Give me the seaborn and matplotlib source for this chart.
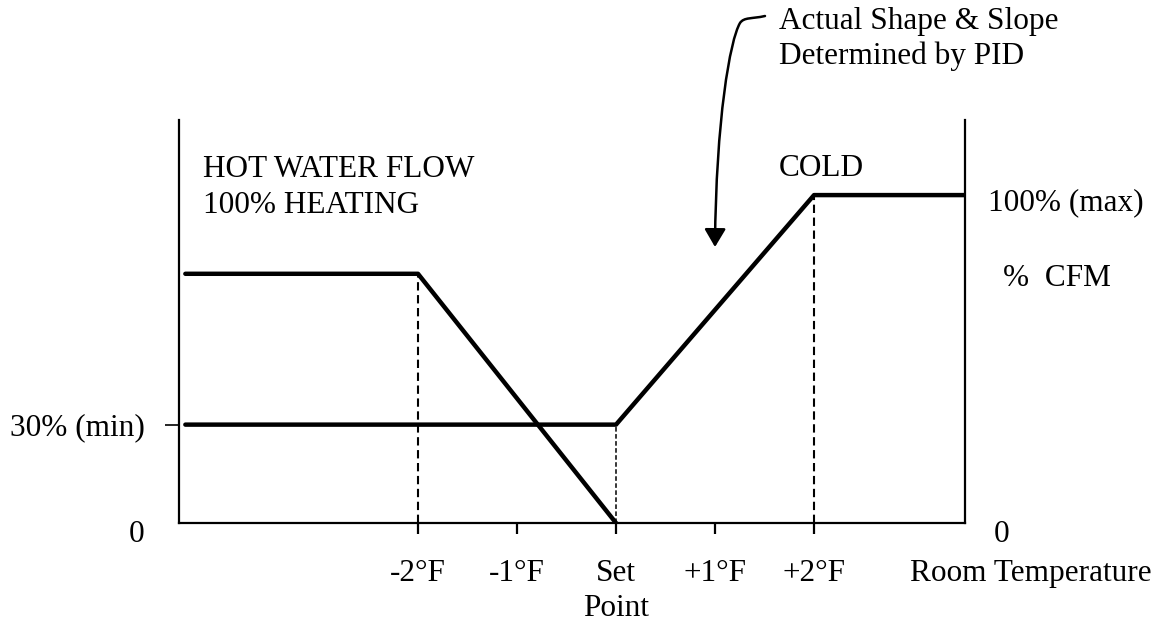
import matplotlib
matplotlib.use("Agg")
import matplotlib.pyplot as plt
import seaborn as sns
import pandas as pd
from matplotlib.path import Path
from matplotlib.patches import FancyArrowPatch

# -------------------------------
# Data
# -------------------------------
tick_pos = [-2, -1, 0, 1, 2]
tick_labels = ["-2°F", "-1°F", "Set\nPoint", "+1°F", "+2°F"]

heating_x = [-4.35, -2, 0]
heating_y = [76, 76, 0]

cfm_x = [-4.35, 0, 2, 3.525]
cfm_y = [30, 30, 100, 100]

min_cfm = 30

# -------------------------------
# Style
# -------------------------------
sns.set_style("white")
plt.rcParams["font.family"] = ["Liberation Serif", "DejaVu Serif"]
plt.rcParams["text.color"] = "black"
plt.rcParams["xtick.color"] = "black"
plt.rcParams["ytick.color"] = "black"
FS = 22.5

W, H = 1156, 623
fig = plt.figure(figsize=(W / 100, H / 100), dpi=100)
ax = fig.add_axes([179 / W, (H - 523) / H, (965 - 179) / W, (523 - 120) / H])


def fx(px):
    return px / W


def fy(py):
    return 1 - py / H


df_heat = pd.DataFrame({"x": heating_x, "y": heating_y})
df_cfm = pd.DataFrame({"x": cfm_x, "y": cfm_y})

sns.lineplot(data=df_heat, x="x", y="y", ax=ax, color="black", lw=3.2, sort=False)
sns.lineplot(data=df_cfm, x="x", y="y", ax=ax, color="black", lw=3.2, sort=False)

# dashed guides
ax.plot([-2, -2], [0, heating_y[1]], color="black", lw=1.5, ls=(0, (4, 2.2)))
ax.plot([0, 0], [0, min_cfm], color="black", lw=1.1, ls=(0, (3, 1.6)))
ax.plot([2, 2], [0, cfm_y[2]], color="black", lw=1.5, ls=(0, (4, 2.2)))

ax.set_xlim(-4.414, 3.525)
ax.set_ylim(0, 122.9)

for s in ["left", "bottom", "right"]:
    ax.spines[s].set_visible(True)
    ax.spines[s].set_color("black")
    ax.spines[s].set_linewidth(1.6)
ax.spines["top"].set_visible(False)

ax.set_xticks(tick_pos)
ax.set_xticklabels(tick_labels, fontsize=FS, linespacing=1.27)
ax.tick_params(axis="x", direction="out", length=8, width=1.6, pad=18, bottom=True)
ax.set_yticks([min_cfm])
ax.set_yticklabels(["30% (min)"], fontsize=FS)
ax.tick_params(axis="y", direction="out", length=10, width=1.2, pad=14.5, left=True)
ax.set_xlabel("")
ax.set_ylabel("")

# -------------------------------
# Texts
# -------------------------------
fig.text(fx(137), fy(535), "0", fontsize=FS, ha="center", va="center")
fig.text(fx(1002), fy(535), "0", fontsize=FS, ha="center", va="center")
fig.text(fx(988), fy(203), "100% (max)", fontsize=FS, ha="left", va="center")
fig.text(fx(1003), fy(278), "%  CFM", fontsize=FS, ha="left", va="center")
fig.text(fx(910), fy(573), "Room Temperature", fontsize=FS, ha="left", va="center")
fig.text(fx(203), fy(187.5), "HOT WATER FLOW\n100% HEATING", fontsize=FS,
         ha="left", va="center", linespacing=1.3)
fig.text(fx(779), fy(168), "COLD", fontsize=FS, ha="left", va="center")
fig.text(fx(779), fy(39), "Actual Shape & Slope\nDetermined by PID", fontsize=FS,
         ha="left", va="center", linespacing=1.23)

# curved arrow
verts = [(765, 16), (752, 19), (744, 17), (740, 23),
         (730, 40), (716, 120), (715, 247)]
verts = [(fx(a), fy(b)) for a, b in verts]
codes = [Path.MOVETO, Path.CURVE4, Path.CURVE4, Path.CURVE4,
         Path.CURVE4, Path.CURVE4, Path.CURVE4]
arrow = FancyArrowPatch(path=Path(verts, codes), transform=fig.transFigure,
                        arrowstyle="-|>,head_length=11,head_width=6.5",
                        color="black", lw=1.8, shrinkA=0, shrinkB=0)
fig.patches.append(arrow)

fig.savefig("out.png", dpi=100)
